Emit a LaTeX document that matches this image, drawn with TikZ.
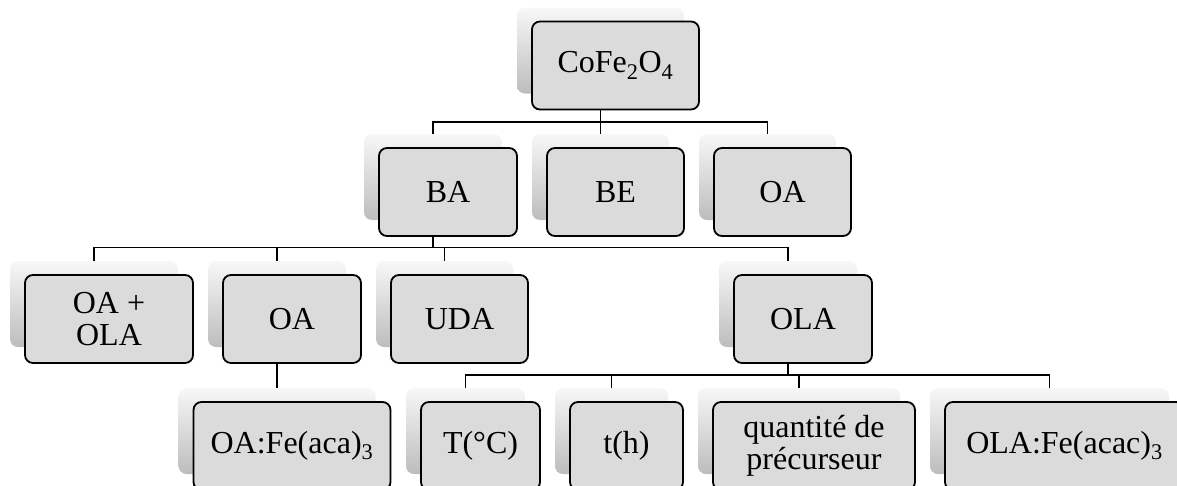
\documentclass[tikz,border=0pt]{standalone}
\usepackage{fontspec}
\setmainfont{Liberation Serif}
\tikzset{
  shadebox/.style={draw=none, rounded corners=8pt, top color=black!3, bottom color=black!26,
    minimum height=86pt, inner sep=0pt, outer sep=0pt},
  mainbox/.style={draw=black, line width=1.8pt, rounded corners=8pt, fill=black!14,
    minimum height=88pt, inner sep=0pt, outer sep=0pt, align=center,
    font=\fontsize{32}{32}\selectfont},
  link/.style={draw=black, line width=1.8pt}
}
\newcommand\tnode[5]{%
  \node[shadebox, minimum width=#4pt] (#1-s) at (#2-15,#3-15) {};
  \node[mainbox, minimum width=#4pt] (#1) at (#2,#3) {#5};}
\begin{document}
\begin{tikzpicture}[x=1pt,y=-1pt]
\clip (0,0) rectangle (1177,485);
% row 1
\tnode{co}{615.5}{65.5}{167}{CoFe\textsubscript{2}O\textsubscript{4}}
% row 2
\tnode{ba}{448}{192}{138}{BA}
\tnode{be}{615.5}{192}{137}{BE}
\tnode{oaa}{782.5}{192}{137}{OA}
% row 3
\tnode{oaola}{109}{319}{168}{OA +\\OLA}
\tnode{oab}{292}{319}{138}{OA}
\tnode{uda}{459.5}{319}{137}{UDA}
\tnode{ola}{803}{319}{138}{OLA}
% row 4
\tnode{oafe}{292}{446}{197}{OA:Fe(aca)\textsubscript{3}}
\tnode{tc}{480.5}{446}{119}{T(°C)}
\tnode{th}{626.5}{446}{113}{t(h)}
\tnode{qu}{814}{446}{202}{quantité de\\précurseur}
\tnode{olafe}{1064.5}{446}{239}{OLA:Fe(acac)\textsubscript{3}}
% junctions
\coordinate (j1) at (600.5,122);
\coordinate (j2) at (433,247.5);
\coordinate (j3) at (788,375);
% connectors
\draw[link] (co-s.center |- co.south) -- (j1)
  (ba-s.north) |- (j1) -| (oaa-s.north)
  (j1) -- (be-s.north);
\draw[link] (ba-s.center |- ba.south) -- (j2)
  (oaola-s.north) |- (j2) -| (ola-s.north)
  (oab-s.north) |- (j2)
  (uda-s.north) |- (j2);
\draw[link] (oab-s.center |- oab.south) -- (oafe-s.north);
\draw[link] (ola-s.center |- ola.south) -- (j3)
  (tc-s.north) |- (j3) -| (olafe-s.north)
  (th-s.north) |- (j3)
  (qu-s.north) |- (j3);
\end{tikzpicture}
\end{document}
